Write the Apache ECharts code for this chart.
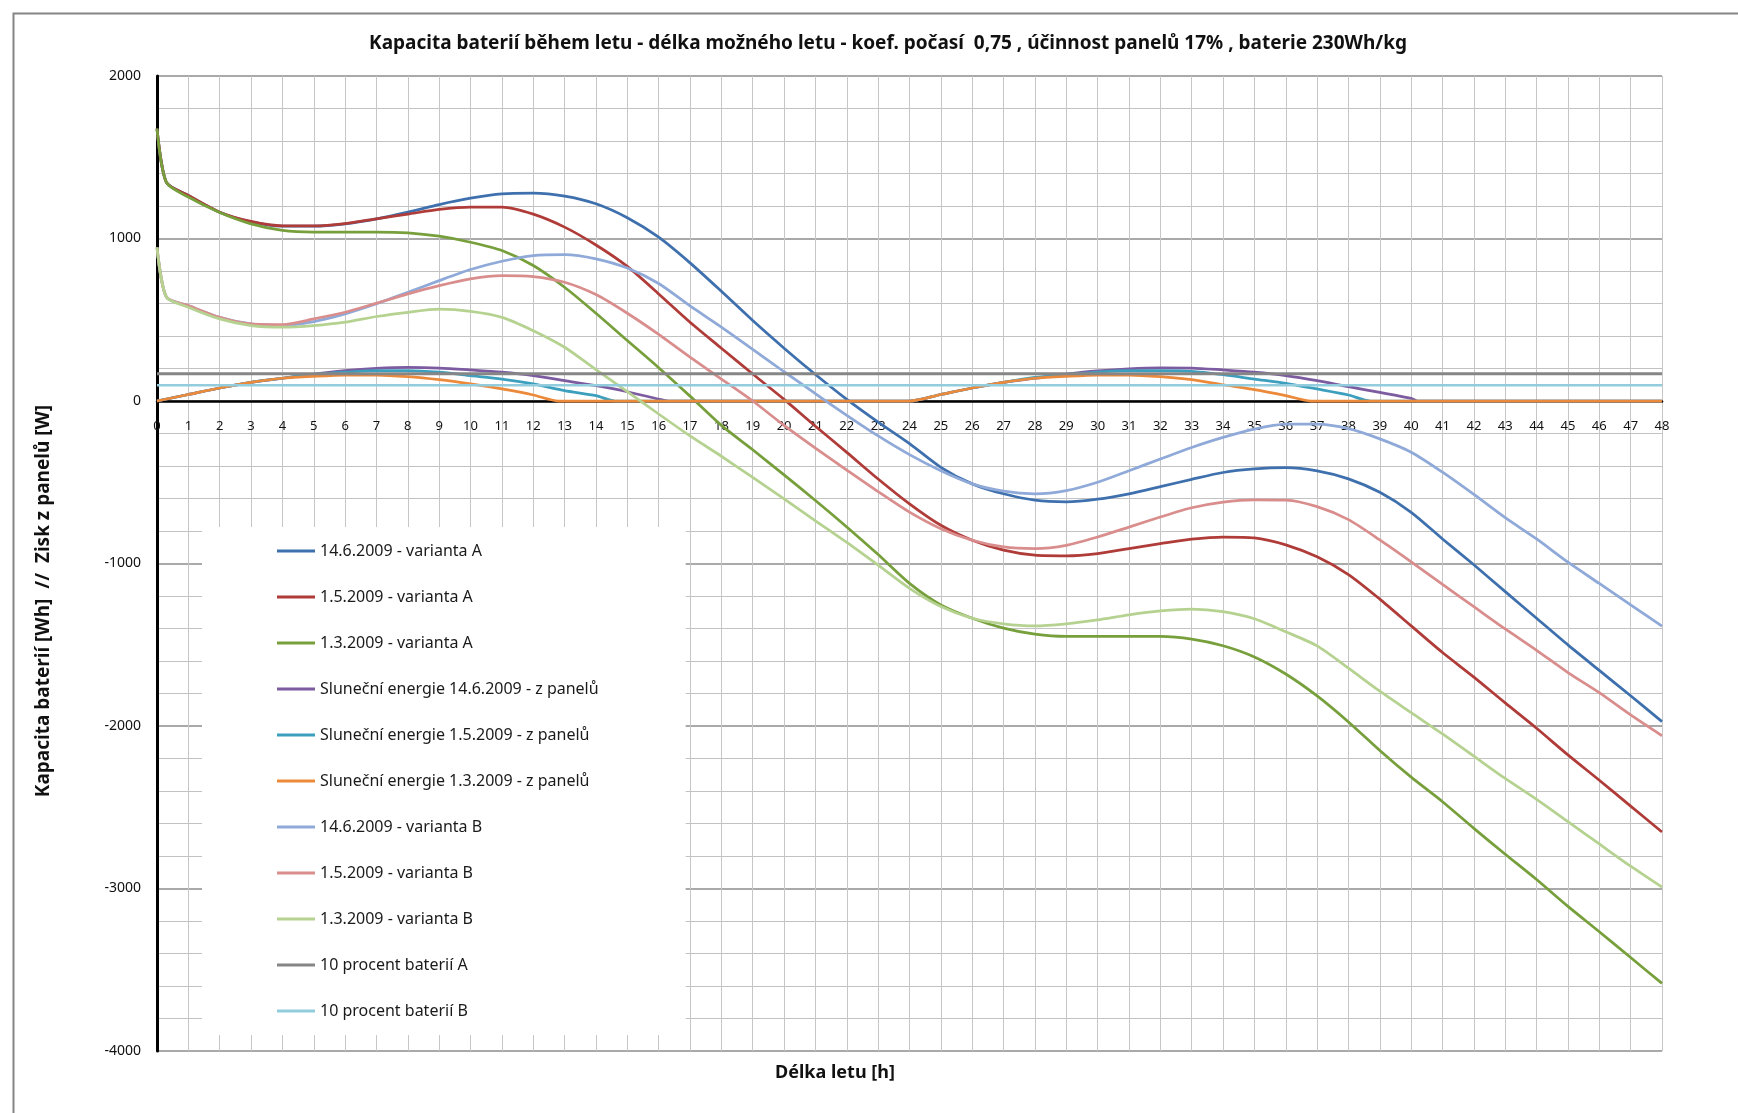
<!DOCTYPE html>
<html><head><meta charset="utf-8">
<script src="https://cdn.jsdelivr.net/npm/echarts/dist/echarts.min.js"></script>
<style>html,body{margin:0;padding:0;background:#fff}#c{width:1738px;height:1113px}</style>
</head><body><div id="c"></div>
<script>
// ---- data ----
const hours = [0, 0.3, 1, 2, 3, 4, 5, 6, 7, 8, 9, 10, 11, 12, 13, 14, 15, 16, 17, 18, 19, 20, 21, 22, 23, 24,
  25, 26, 27, 28, 29, 30, 31, 32, 33, 34, 35, 36, 37, 38, 39, 40, 41, 42, 43, 44, 45, 46, 47, 48];

const capA_1406 = [1676, 1345, 1265, 1162, 1102, 1076, 1076, 1090, 1121, 1162, 1209, 1248, 1275, 1279, 1261, 1214, 1128, 1008,
  850, 675, 495, 325, 163, 10, -130, -262, -408, -510, -571, -610, -620, -604, -571, -527, -482, -440, -418, -410,
  -430, -479, -562, -685, -849, -1008, -1173, -1337, -1501, -1658, -1814, -1973];
const capA_0105 = [1676, 1345, 1265, 1162, 1105, 1078, 1078, 1092, 1121, 1150, 1179, 1193, 1193, 1150, 1070, 960, 828, 659,
  485, 325, 166, 10, -155, -316, -480, -633, -765, -857, -918, -949, -953, -939, -908, -878, -850, -837, -842, -885,
  -959, -1068, -1219, -1384, -1548, -1699, -1858, -2014, -2178, -2334, -2493, -2652];
const capA_0103 = [1676, 1345, 1255, 1160, 1090, 1050, 1040, 1040, 1040, 1035, 1014, 977, 926, 834, 700, 540, 372, 205,
  30, -150, -300, -455, -612, -775, -945, -1122, -1255, -1337, -1398, -1435, -1449, -1449, -1449, -1449, -1465, -1506, -1575, -1680,
  -1815, -1975, -2151, -2315, -2466, -2630, -2789, -2945, -3110, -3266, -3425, -3584];

const capB_1406 = [946, 640, 587, 515, 474, 464, 489, 536, 598, 669, 741, 809, 860, 895, 901, 875, 818, 723,
  585, 455, 318, 180, 45, -88, -215, -330, -429, -510, -555, -571, -551, -500, -429, -357, -286, -224, -173, -143,
  -142, -170, -233, -315, -438, -575, -718, -849, -992, -1123, -1255, -1386];
const capB_0105 = [946, 640, 587, 515, 474, 470, 505, 546, 602, 659, 710, 752, 772, 766, 731, 655, 540, 410,
  270, 135, 0, -150, -290, -425, -558, -684, -786, -857, -898, -908, -888, -837, -776, -714, -657, -622, -608, -610,
  -650, -730, -855, -990, -1129, -1266, -1403, -1534, -1671, -1795, -1932, -2060];
const capB_0103 = [946, 640, 577, 505, 464, 454, 464, 485, 520, 546, 565, 552, 515, 433, 331, 193, 58, -80,
  -215, -340, -470, -603, -737, -870, -1010, -1153, -1265, -1337, -1371, -1384, -1371, -1347, -1316, -1292, -1280, -1296, -1340, -1420,
  -1507, -1644, -1786, -1918, -2049, -2186, -2323, -2452, -2589, -2726, -2863, -2992];

const solarHours_1406 = [0, 1, 2, 3, 4, 5, 6, 7, 8, 9, 10, 11, 12, 13, 14, 15, 16, 16.3,
  24, 25, 26, 27, 28, 29, 30, 31, 32, 33, 34, 35, 36, 37, 38, 39, 40, 40.2, 48];
const solar_1406 = [0, 40, 80, 115, 140, 165, 187, 201, 207, 203, 191, 177, 156, 125, 94, 57, 12, 0,
  0, 40, 80, 115, 140, 165, 185, 198, 204, 203, 191, 177, 156, 125, 88, 53, 16, 0, 0];

const solarHours_0105 = [0, 1, 2, 3, 4, 5, 6, 7, 8, 9, 10, 11, 12, 13, 14, 14.6,
  24, 25, 26, 27, 28, 29, 30, 31, 32, 33, 34, 35, 36, 37, 38, 38.7, 48];
const solar_0105 = [0, 40, 80, 115, 140, 162, 177, 187, 187, 177, 156, 135, 105, 64, 33, 0,
  0, 40, 80, 115, 145, 162, 178, 187, 187, 183, 162, 135, 109, 74, 37, 0, 0];

const solarHours_0103 = [0, 1, 2, 3, 4, 5, 6, 7, 8, 9, 10, 11, 12, 12.8,
  24, 25, 26, 27, 28, 29, 30, 31, 32, 33, 34, 35, 36, 36.8, 48];
const solar_0103 = [0, 40, 80, 115, 140, 152, 160, 160, 150, 131, 105, 74, 37, 0,
  0, 40, 80, 115, 140, 152, 160, 160, 150, 131, 100, 70, 33, 0, 0];

const limitHours = [0, 48];
const limitA = [168, 168];
const limitB = [97, 97];

const seriesNames = [
  '14.6.2009 - varianta A', '1.5.2009 - varianta A', '1.3.2009 - varianta A',
  'Sluneční energie 14.6.2009 - z panelů', 'Sluneční energie 1.5.2009 - z panelů', 'Sluneční energie 1.3.2009 - z panelů',
  '14.6.2009 - varianta B', '1.5.2009 - varianta B', '1.3.2009 - varianta B',
  '10 procent baterií A', '10 procent baterií B'
];

const titleText = 'Kapacita baterií během letu - délka možného letu - koef. počasí  0,75 , účinnost panelů 17% , baterie 230Wh/kg';
const yTitle = 'Kapacita baterií [Wh]  //  Zisk z panelů [W]';
const xTitle = 'Délka letu [h]';

// ---- build ----
const pairs = (xs, ys) => xs.map((x, i) => [x, ys[i]]);
const defs = [
  [hours, capA_1406, '#3F70AE', 2.75, 0.25],
  [hours, capA_0105, '#B03C39', 2.75, 0.25],
  [hours, capA_0103, '#77A03C', 2.75, 0.25],
  [solarHours_1406, solar_1406, '#7C5BA0', 2.75, 0.25],
  [solarHours_0105, solar_0105, '#3C9FBE', 2.75, 0.25],
  [solarHours_0103, solar_0103, '#EC8A3B', 2.75, 0.25],
  [hours, capB_1406, '#8FA9D8', 2.75, 0.25],
  [hours, capB_0105, '#D98E8D', 2.75, 0.25],
  [hours, capB_0103, '#B6D291', 2.75, 0.25],
  [limitHours, limitA, '#868686', 3, false],
  [limitHours, limitB, '#93CDDD', 2.5, false]
];
const series = defs.map((d, i) => ({
  name: seriesNames[i], type: 'line', data: pairs(d[0], d[1]),
  symbol: 'none', showSymbol: false, smooth: d[4],
  lineStyle: { color: d[2], width: d[3] }, itemStyle: { color: d[2] },
  z: 2 + i * 0.01
}));

const FONT = 'Noto Sans';
const chart = echarts.init(document.getElementById('c'), null, { renderer: 'canvas' });
chart.setOption({
  animation: false,
  backgroundColor: '#fff',
  title: {
    text: titleText, left: 883, top: 29, textAlign: 'center',
    textStyle: { fontFamily: FONT, fontSize: 19, fontWeight: 'bold', color: '#111' }
  },
  grid: { left: 157, right: 76, top: 76, bottom: 62, containLabel: false },
  xAxis: {
    type: 'value', min: 0, max: 48, interval: 1, position: 'bottom', offset: -650,
    axisLine: { show: true, onZero: false, lineStyle: { color: '#000', width: 2.5 } },
    axisTick: { show: false },
    axisLabel: { fontFamily: FONT, fontSize: 13, color: '#111', margin: 19 },
    splitLine: { show: true, lineStyle: { color: '#c6c6c6', width: 1 } }
  },
  yAxis: {
    type: 'value', min: -4000, max: 2000, interval: 1000,
    axisLine: { show: true, onZero: false, lineStyle: { color: '#000', width: 3 } },
    axisTick: { show: false },
    minorTick: { show: false, splitNumber: 5 },
    axisLabel: { fontFamily: FONT, fontSize: 14, color: '#111', margin: 16, formatter: v => String(v) },
    splitLine: { show: true, lineStyle: { color: '#8c8c8c', width: 1.5 } },
    minorSplitLine: { show: true, lineStyle: { color: '#c2c2c2', width: 1.2 } }
  },
  legend: {
    orient: 'vertical', left: 202, top: 527,
    padding: [16, 87, 16, 75], itemGap: 30, itemWidth: 38, itemHeight: 3, icon: 'rect',
    backgroundColor: '#fff',
    textStyle: { fontFamily: FONT, fontSize: 16, color: '#1a1a1a', lineHeight: 16 },
    data: seriesNames
  },
  graphic: [
    { type: 'rect', left: 11, top: 11, z: -1, silent: true,
      shape: { width: 1760, height: 1140 }, style: { fill: 'none', stroke: '#858585', lineWidth: 2 } },
    { type: 'text', x: 44, y: 601, rotation: Math.PI / 2,
      style: { text: yTitle, font: 'bold 19px "Noto Sans"', fill: '#111', textAlign: 'center', textVerticalAlign: 'middle' } },
    { type: 'text', x: 835, y: 1073,
      style: { text: xTitle, font: 'bold 18px "Noto Sans"', fill: '#111', textAlign: 'center', textVerticalAlign: 'middle' } }
  ],
  series: series
});
</script></body></html>
